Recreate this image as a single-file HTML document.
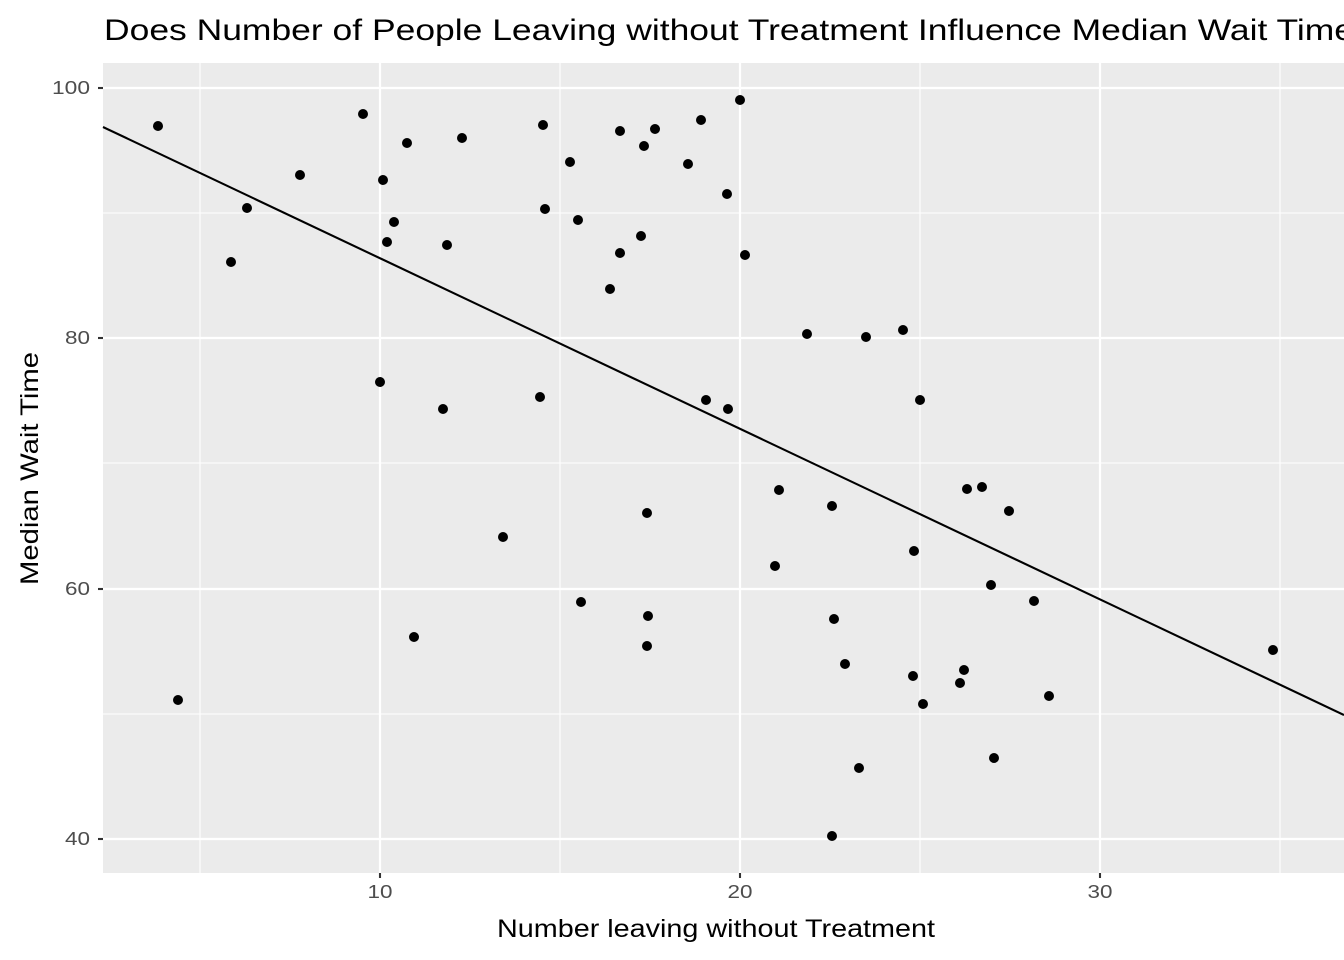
<!DOCTYPE html>
<html><head><meta charset="utf-8"><style>
html,body{margin:0;padding:0;background:#fff;}
svg{display:block;font-family:"Liberation Sans",sans-serif;}
</style></head><body>
<svg width="1344" height="960" xmlns="http://www.w3.org/2000/svg">
<rect width="1344" height="960" fill="#fff"/>
<rect x="103" y="63" width="1241" height="810" fill="#EBEBEB"/>
<g stroke="#fff" stroke-width="1.1">
<line x1="200" y1="63" x2="200" y2="873"/><line x1="560" y1="63" x2="560" y2="873"/>
<line x1="920" y1="63" x2="920" y2="873"/><line x1="1280" y1="63" x2="1280" y2="873"/>
<line x1="103" y1="213" x2="1344" y2="213"/><line x1="103" y1="463" x2="1344" y2="463"/>
<line x1="103" y1="714" x2="1344" y2="714"/>
</g>
<g stroke="#fff" stroke-width="2.2">
<line x1="380" y1="63" x2="380" y2="873"/><line x1="740" y1="63" x2="740" y2="873"/>
<line x1="1100" y1="63" x2="1100" y2="873"/>
<line x1="103" y1="88" x2="1344" y2="88"/><line x1="103" y1="338" x2="1344" y2="338"/>
<line x1="103" y1="589" x2="1344" y2="589"/><line x1="103" y1="839" x2="1344" y2="839"/>
</g>
<g fill="#000">
<circle cx="158" cy="126" r="5"/><circle cx="178" cy="700" r="5"/><circle cx="231" cy="262" r="5"/><circle cx="247" cy="208" r="5"/><circle cx="300" cy="175" r="5"/><circle cx="363" cy="114" r="5"/><circle cx="380" cy="382" r="5"/><circle cx="383" cy="180" r="5"/><circle cx="387" cy="242" r="5"/><circle cx="394" cy="222" r="5"/><circle cx="407" cy="143" r="5"/><circle cx="414" cy="637" r="5"/><circle cx="443" cy="409" r="5"/><circle cx="447" cy="245" r="5"/><circle cx="462" cy="138" r="5"/><circle cx="503" cy="537" r="5"/><circle cx="540" cy="397" r="5"/><circle cx="543" cy="125" r="5"/><circle cx="545" cy="209" r="5"/><circle cx="570" cy="162" r="5"/><circle cx="578" cy="220" r="5"/><circle cx="581" cy="602" r="5"/><circle cx="610" cy="289" r="5"/><circle cx="620" cy="131" r="5"/><circle cx="620" cy="253" r="5"/><circle cx="641" cy="236" r="5"/><circle cx="644" cy="146" r="5"/><circle cx="647" cy="513" r="5"/><circle cx="648" cy="616" r="5"/><circle cx="647" cy="646" r="5"/><circle cx="655" cy="129" r="5"/><circle cx="688" cy="164" r="5"/><circle cx="701" cy="120" r="5"/><circle cx="706" cy="400" r="5"/><circle cx="727" cy="194" r="5"/><circle cx="728" cy="409" r="5"/><circle cx="740" cy="100" r="5"/><circle cx="745" cy="255" r="5"/><circle cx="775" cy="566" r="5"/><circle cx="779" cy="490" r="5"/><circle cx="807" cy="334" r="5"/><circle cx="832" cy="836" r="5"/><circle cx="832" cy="506" r="5"/><circle cx="834" cy="619" r="5"/><circle cx="845" cy="664" r="5"/><circle cx="859" cy="768" r="5"/><circle cx="866" cy="337" r="5"/><circle cx="903" cy="330" r="5"/><circle cx="913" cy="676" r="5"/><circle cx="914" cy="551" r="5"/><circle cx="920" cy="400" r="5"/><circle cx="923" cy="704" r="5"/><circle cx="960" cy="683" r="5"/><circle cx="964" cy="670" r="5"/><circle cx="967" cy="489" r="5"/><circle cx="982" cy="487" r="5"/><circle cx="991" cy="585" r="5"/><circle cx="994" cy="758" r="5"/><circle cx="1009" cy="511" r="5"/><circle cx="1034" cy="601" r="5"/><circle cx="1049" cy="696" r="5"/><circle cx="1273" cy="650" r="5"/>
</g>
<line x1="103" y1="127" x2="1344" y2="715" stroke="#000" stroke-width="2.1"/>
<g stroke="#333" stroke-width="2.1">
<line x1="98" y1="88" x2="103" y2="88"/><line x1="98" y1="338" x2="103" y2="338"/>
<line x1="98" y1="589" x2="103" y2="589"/><line x1="98" y1="839" x2="103" y2="839"/>
<line x1="380" y1="873" x2="380" y2="878"/><line x1="740" y1="873" x2="740" y2="878"/>
<line x1="1100" y1="873" x2="1100" y2="878"/>
</g>
<g fill="#4D4D4D" font-size="18" text-anchor="end">
<text x="90" y="94" textLength="38" lengthAdjust="spacingAndGlyphs">100</text>
<text x="90" y="344" textLength="25" lengthAdjust="spacingAndGlyphs">80</text>
<text x="90" y="595" textLength="25" lengthAdjust="spacingAndGlyphs">60</text>
<text x="90" y="845" textLength="25" lengthAdjust="spacingAndGlyphs">40</text>
</g>
<g fill="#4D4D4D" font-size="18" text-anchor="middle">
<text x="380" y="898" textLength="25" lengthAdjust="spacingAndGlyphs">10</text>
<text x="740" y="898" textLength="25" lengthAdjust="spacingAndGlyphs">20</text>
<text x="1100" y="898" textLength="25" lengthAdjust="spacingAndGlyphs">30</text>
</g>
<text x="497" y="937" font-size="25" fill="#000" textLength="438" lengthAdjust="spacingAndGlyphs">Number leaving without Treatment</text>
<text transform="translate(38,585) rotate(-90)" font-size="25" fill="#000" textLength="233" lengthAdjust="spacingAndGlyphs">Median Wait Time</text>
<text x="104" y="40" font-size="30" fill="#000" textLength="1250" lengthAdjust="spacingAndGlyphs">Does Number of People Leaving without Treatment Influence Median Wait Time</text>
</svg>
</body></html>
